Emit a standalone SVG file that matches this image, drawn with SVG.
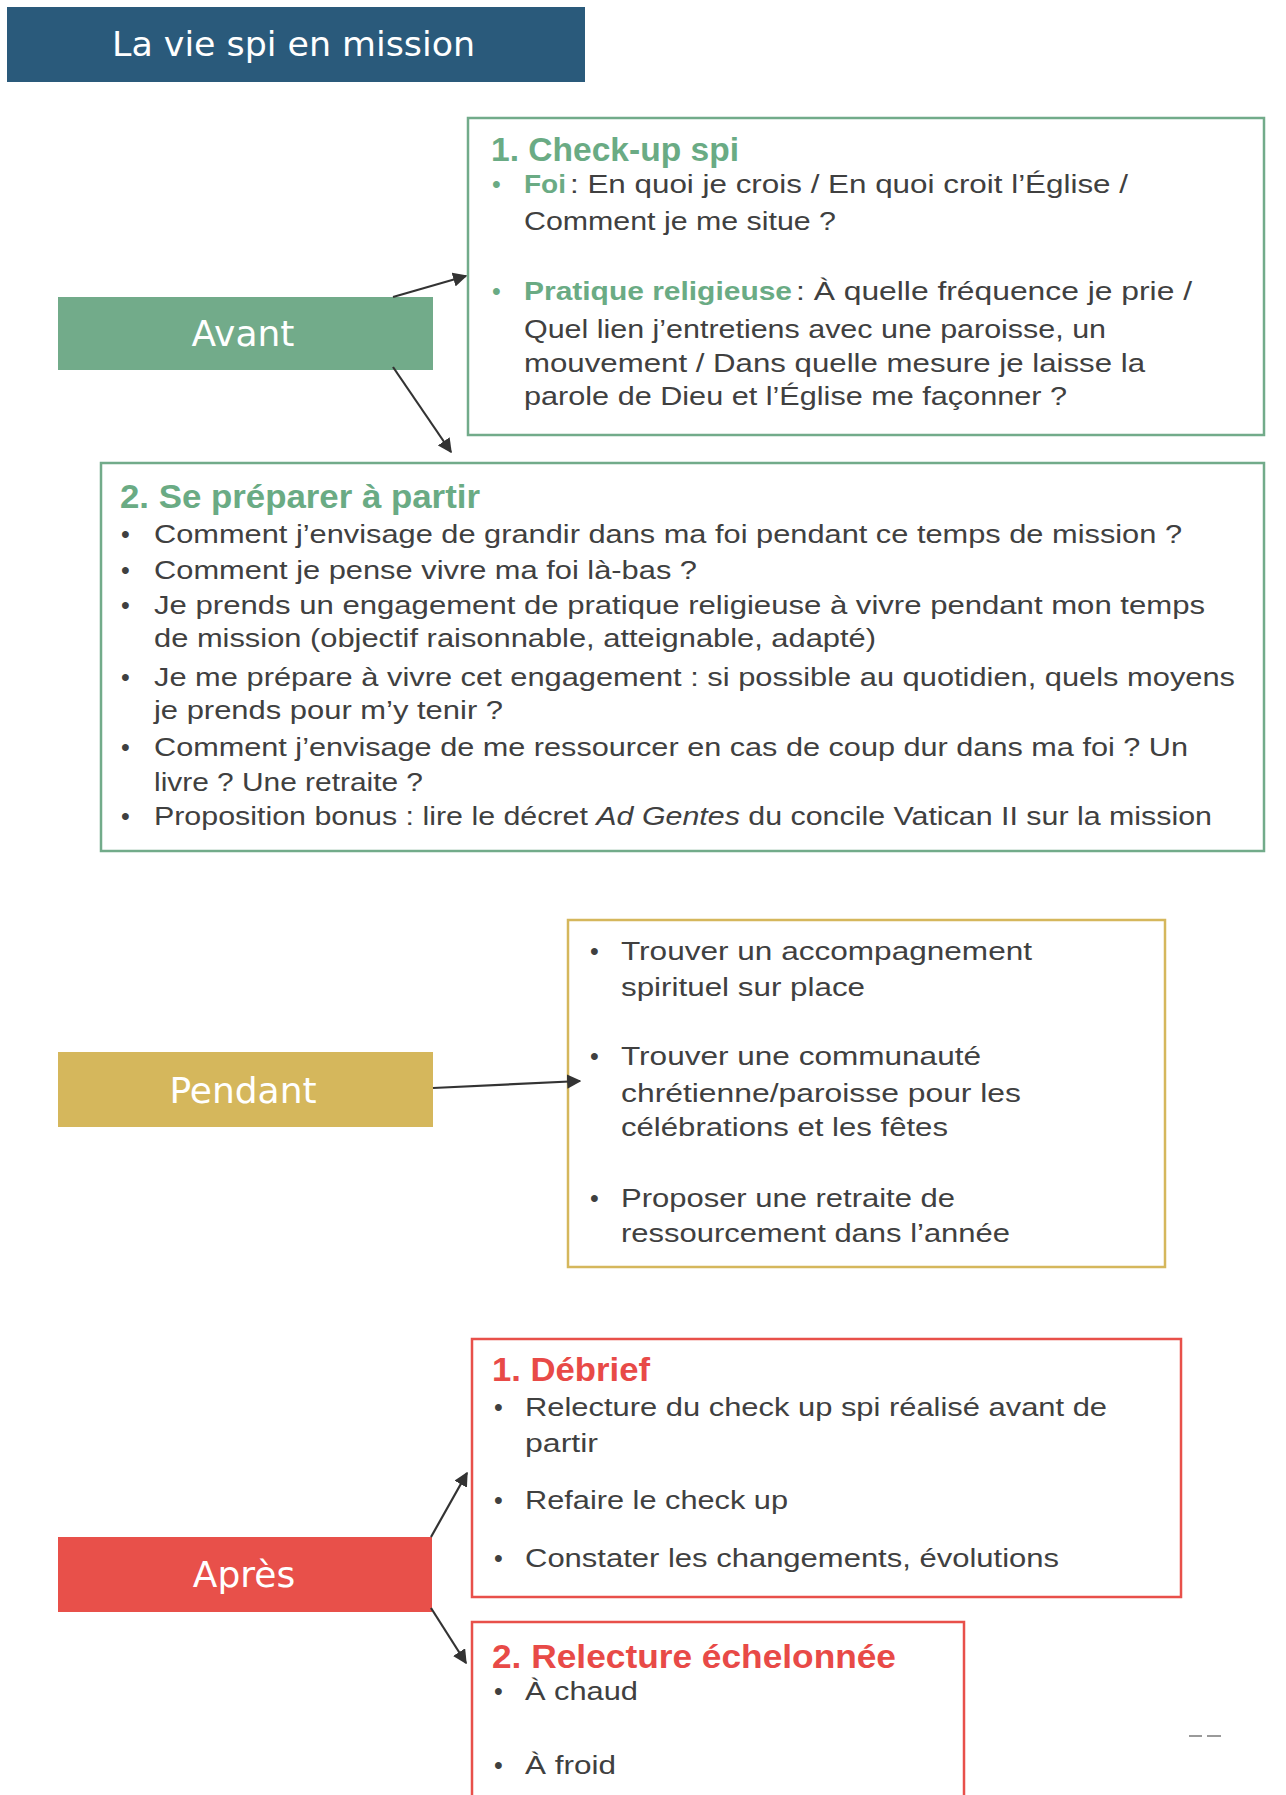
<svg xmlns="http://www.w3.org/2000/svg" width="1286" height="1795" viewBox="0 0 1286 1795">
<style>
.phase{font-family:"DejaVu Sans",Verdana,sans-serif;font-size:36px;fill:#ffffff;text-anchor:middle}
.title{font-family:"DejaVu Sans",Verdana,sans-serif;font-size:34px;fill:#ffffff}
.h{font-family:"Liberation Sans",Arial,sans-serif;font-size:33px;font-weight:bold}
.t{font-family:"Liberation Sans",Arial,sans-serif;font-size:25px;fill:#404040}
.b{font-family:"Liberation Sans",Arial,sans-serif;font-size:25px;font-weight:bold;fill:#6aab84}
.g{fill:#6aab84}
.r{fill:#e84a47}
.box{fill:#ffffff;stroke-width:2.5}
.conn{stroke:#333333;stroke-width:2.2;fill:none;marker-end:url(#ah)}
</style>
<defs>
<marker id="ah" viewBox="0 0 10 10" refX="9" refY="5" markerWidth="6.5" markerHeight="6.5" orient="auto" markerUnits="strokeWidth">
<path d="M0,0 L10,5 L0,10 z" fill="#333333"/>
</marker>
</defs>
<rect width="1286" height="1795" fill="#ffffff"/>

<g id="title">
<rect x="7" y="7" width="578" height="75" fill="#2a5a7b"/>
<text class="title" x="112" y="56" textLength="363" lengthAdjust="spacingAndGlyphs">La vie spi en mission</text>
</g>

<g id="avant">
<rect x="58" y="297" width="375" height="73" fill="#72ab8a"/>
<text class="phase" x="243" y="346">Avant</text>
</g>

<g id="checkup">
<rect class="box" x="468" y="118" width="796" height="317" stroke="#72ab8a"/>
<text class="h g" x="491" y="161" textLength="248" lengthAdjust="spacingAndGlyphs">1. Check-up spi</text>
<text class="t g" x="492" y="193">•</text>
<text class="b" x="524" y="193" textLength="42" lengthAdjust="spacingAndGlyphs">Foi</text>
<text class="t" x="570" y="193" textLength="558" lengthAdjust="spacingAndGlyphs">: En quoi je crois / En quoi croit l’Église /</text>
<text class="t" x="524" y="230" textLength="312" lengthAdjust="spacingAndGlyphs">Comment je me situe ?</text>
<text class="t g" x="492" y="300">•</text>
<text class="b" x="524" y="300" textLength="268" lengthAdjust="spacingAndGlyphs">Pratique religieuse</text>
<text class="t" x="796" y="300" textLength="396" lengthAdjust="spacingAndGlyphs">: À quelle fréquence je prie /</text>
<text class="t" x="524" y="338" textLength="582" lengthAdjust="spacingAndGlyphs">Quel lien j’entretiens avec une paroisse, un</text>
<text class="t" x="524" y="372" textLength="621" lengthAdjust="spacingAndGlyphs">mouvement / Dans quelle mesure je laisse la</text>
<text class="t" x="524" y="405" textLength="543" lengthAdjust="spacingAndGlyphs">parole de Dieu et l’Église me façonner ?</text>
</g>

<g id="preparer">
<rect class="box" x="101" y="463" width="1163" height="388" stroke="#72ab8a"/>
<text class="h g" x="120" y="508" textLength="360" lengthAdjust="spacingAndGlyphs">2. Se préparer à partir</text>
<text class="t" x="121" y="543">•</text>
<text class="t" x="154" y="543" textLength="1028" lengthAdjust="spacingAndGlyphs">Comment j’envisage de grandir dans ma foi pendant ce temps de mission ?</text>
<text class="t" x="121" y="579">•</text>
<text class="t" x="154" y="579" textLength="543" lengthAdjust="spacingAndGlyphs">Comment je pense vivre ma foi là-bas ?</text>
<text class="t" x="121" y="614">•</text>
<text class="t" x="154" y="614" textLength="1051" lengthAdjust="spacingAndGlyphs">Je prends un engagement de pratique religieuse à vivre pendant mon temps</text>
<text class="t" x="154" y="647" textLength="722" lengthAdjust="spacingAndGlyphs">de mission (objectif raisonnable, atteignable, adapté)</text>
<text class="t" x="121" y="686">•</text>
<text class="t" x="154" y="686" textLength="1081" lengthAdjust="spacingAndGlyphs">Je me prépare à vivre cet engagement : si possible au quotidien, quels moyens</text>
<text class="t" x="154" y="719" textLength="349" lengthAdjust="spacingAndGlyphs">je prends pour m’y tenir ?</text>
<text class="t" x="121" y="756">•</text>
<text class="t" x="154" y="756" textLength="1034" lengthAdjust="spacingAndGlyphs">Comment j’envisage de me ressourcer en cas de coup dur dans ma foi ? Un</text>
<text class="t" x="154" y="791" textLength="269" lengthAdjust="spacingAndGlyphs">livre ? Une retraite ?</text>
<text class="t" x="121" y="825">•</text>
<text class="t" x="154" y="825" textLength="1058" lengthAdjust="spacingAndGlyphs">Proposition bonus : lire le décret <tspan font-style="italic">Ad Gentes</tspan> du concile Vatican II sur la mission</text>
</g>

<g id="pendant">
<rect x="58" y="1052" width="375" height="75" fill="#d5b75c"/>
<text class="phase" x="243" y="1103">Pendant</text>
</g>

<g id="pendant-list">
<rect class="box" x="568" y="920" width="597" height="347" stroke="#d5b75c"/>
<text class="t" x="590" y="960">•</text>
<text class="t" x="621" y="960" textLength="411" lengthAdjust="spacingAndGlyphs">Trouver un accompagnement</text>
<text class="t" x="621" y="996" textLength="244" lengthAdjust="spacingAndGlyphs">spirituel sur place</text>
<text class="t" x="590" y="1065">•</text>
<text class="t" x="621" y="1065" textLength="360" lengthAdjust="spacingAndGlyphs">Trouver une communauté</text>
<text class="t" x="621" y="1102" textLength="400" lengthAdjust="spacingAndGlyphs">chrétienne/paroisse pour les</text>
<text class="t" x="621" y="1136" textLength="327" lengthAdjust="spacingAndGlyphs">célébrations et les fêtes</text>
<text class="t" x="590" y="1207">•</text>
<text class="t" x="621" y="1207" textLength="334" lengthAdjust="spacingAndGlyphs">Proposer une retraite de</text>
<text class="t" x="621" y="1242" textLength="389" lengthAdjust="spacingAndGlyphs">ressourcement dans l’année</text>
</g>

<g id="apres">
<rect x="58" y="1537" width="374" height="75" fill="#e8504a"/>
<text class="phase" x="244" y="1587">Après</text>
</g>

<g id="debrief">
<rect class="box" x="472" y="1339" width="709" height="258" stroke="#e8504a"/>
<text class="h r" x="492" y="1381" textLength="158" lengthAdjust="spacingAndGlyphs">1. Débrief</text>
<text class="t" x="494" y="1416">•</text>
<text class="t" x="525" y="1416" textLength="582" lengthAdjust="spacingAndGlyphs">Relecture du check up spi réalisé avant de</text>
<text class="t" x="525" y="1452" textLength="73" lengthAdjust="spacingAndGlyphs">partir</text>
<text class="t" x="494" y="1509">•</text>
<text class="t" x="525" y="1509" textLength="263" lengthAdjust="spacingAndGlyphs">Refaire le check up</text>
<text class="t" x="494" y="1567">•</text>
<text class="t" x="525" y="1567" textLength="534" lengthAdjust="spacingAndGlyphs">Constater les changements, évolutions</text>
</g>

<g id="relecture">
<rect class="box" x="472" y="1622" width="492" height="190" stroke="#e8504a"/>
<text class="h r" x="492" y="1668" textLength="404" lengthAdjust="spacingAndGlyphs">2. Relecture échelonnée</text>
<text class="t" x="494" y="1700">•</text>
<text class="t" x="525" y="1700" textLength="113" lengthAdjust="spacingAndGlyphs">À chaud</text>
<text class="t" x="494" y="1774">•</text>
<text class="t" x="525" y="1774" textLength="91" lengthAdjust="spacingAndGlyphs">À froid</text>
</g>

<g id="connectors">
<line class="conn" x1="393" y1="297" x2="466" y2="276"/>
<line class="conn" x1="393" y1="367" x2="451" y2="452"/>
<line class="conn" x1="433" y1="1088" x2="580" y2="1081"/>
<line class="conn" x1="431" y1="1537" x2="467" y2="1473"/>
<line class="conn" x1="431" y1="1608" x2="466" y2="1663"/>
</g>

<g id="mark" stroke="#9a9a9a" stroke-width="2">
<line x1="1189" y1="1736" x2="1202" y2="1736"/>
<line x1="1207" y1="1736" x2="1221" y2="1736"/>
</g>
</svg>
